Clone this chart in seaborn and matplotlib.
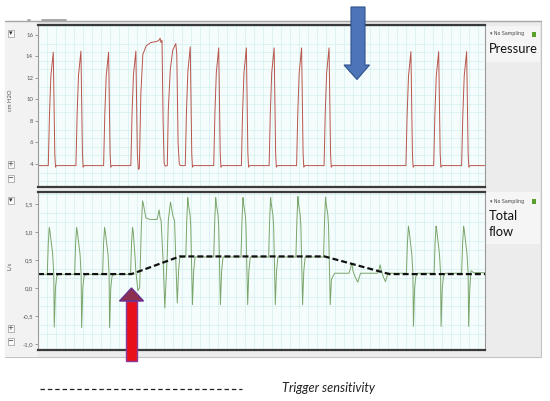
import seaborn as sns
import matplotlib.pyplot as plt
from matplotlib.patches import Rectangle, Polygon
from matplotlib.lines import Line2D
from matplotlib.ticker import MultipleLocator

# time axis: 0.1 s steps from the left edge of the trace window
# airway pressure (cm H2O)
p_t = [0,
       10.3, 11.5, 12.9, 15.3, 16.8, 17.5, 18.5,
       38.0, 39.2, 40.6, 43.0, 44.5, 45.2, 46.2,
       65.7, 66.9, 68.3, 70.7, 72.2, 72.9, 73.9,
       93.0, 94.2, 95.6, 98.0, 99.5, 100.5,
       101.5, 103.0, 105.0, 108.5, 113.0, 119.0, 121.0, 122.3, 123.2, 124.2, 125.3, 126.3, 127.3, 129.5,
       130.5, 132.5, 135.0, 138.0, 139.0, 140.3, 141.5, 142.5,
       147.5, 148.7, 150.1, 152.5, 154.0, 154.7, 155.7,
       176.0, 177.2, 178.6, 181.0, 182.5, 183.2, 184.2,
       203.7, 204.9, 206.3, 208.7, 210.2, 210.9, 211.9,
       231.5, 232.7, 234.1, 236.5, 238.0, 238.7, 239.7,
       259.0, 260.2, 261.6, 264.0, 265.5, 266.2, 267.2,
       286.5, 287.7, 289.1, 291.5, 293.0, 293.7, 294.7,
       368.5, 369.7, 371.1, 373.5, 375.0, 375.7, 376.7,
       396.3, 397.5, 398.9, 401.3, 402.8, 403.5, 404.5,
       424.3, 425.5, 426.9, 429.3, 430.8, 431.5, 432.5,
       447.7]
p_v = [3.85,
       3.85, 8.6, 12.2, 14.4, 5.0, 3.7, 3.85,
       3.85, 8.7, 12.3, 14.5, 5.0, 3.7, 3.85,
       3.85, 8.6, 12.2, 14.4, 5.0, 3.7, 3.85,
       3.85, 8.7, 12.3, 14.5, 5.0, 3.5,
       3.6, 10.5, 14.2, 15.0, 15.3, 15.4, 15.5, 15.7, 15.3, 15.5, 8.0, 4.1, 3.8, 3.85,
       9.0, 12.8, 14.6, 15.2, 14.2, 6.0, 4.0, 3.85,
       3.85, 8.9, 12.6, 14.9, 5.0, 3.7, 3.85,
       3.85, 8.8, 12.5, 14.8, 5.0, 3.7, 3.85,
       3.85, 8.8, 12.5, 14.8, 5.0, 3.7, 3.85,
       3.85, 8.8, 12.5, 14.8, 5.0, 3.7, 3.85,
       3.85, 8.8, 12.5, 14.8, 5.0, 3.7, 3.85,
       3.85, 8.8, 12.5, 14.8, 5.0, 3.7, 3.85,
       3.85, 8.6, 12.2, 14.45, 5.0, 3.7, 3.85,
       3.85, 8.6, 12.2, 14.45, 5.0, 3.7, 3.85,
       3.85, 8.6, 12.2, 14.45, 5.0, 3.7, 3.85,
       3.85]

# total flow (L/s)
f_t = [0,
       9.3, 10.3, 11.3, 12.0, 14.7, 15.8, 16.3, 17.5, 18.7, 20.5,
       36.7, 37.7, 38.7, 39.4, 42.1, 43.2, 43.7, 44.9, 46.1, 47.9,
       64.7, 65.7, 66.7, 67.4, 70.1, 71.2, 71.7, 72.9, 74.1, 75.9,
       92.7, 93.7, 94.7, 95.4, 97.0, 98.0, 100.0, 101.8,
       103.5, 104.7, 105.5, 108.0, 112.0, 119.3, 120.3, 121.3, 122.3, 123.3, 125.5, 127.0, 128.5,
       129.5, 130.5, 132.7, 133.5, 135.3, 136.8, 138.0, 139.5, 140.8, 142.0,
       148.0, 149.0, 150.0, 150.6, 152.3, 153.0, 154.7, 155.9, 157.3,
       176.0, 177.0, 178.0, 178.6, 180.3, 181.0, 182.7, 183.9, 185.3,
       203.3, 204.3, 205.3, 205.9, 207.6, 208.3, 210.0, 211.2, 212.6,
       231.0, 232.0, 233.0, 233.6, 235.3, 236.0, 237.7, 238.9, 240.3,
       258.3, 259.3, 260.3, 260.9, 262.6, 263.3, 265.0, 266.2, 267.6,
       286.0, 287.0, 288.0, 288.6, 290.3, 291.0, 292.7, 293.9, 297.0,
       311.5, 313.0, 314.3, 315.5, 317.5, 320.3, 323.0,
       340.0, 341.5, 342.7, 344.0, 345.8, 348.0, 350.5,
       369.0, 370.0, 371.0, 371.7, 374.4, 375.5, 376.0, 377.2, 378.4, 380.2,
       396.7, 397.7, 398.7, 399.4, 402.1, 403.2, 403.7, 404.9, 406.1, 407.9,
       424.3, 425.3, 426.3, 427.0, 429.7, 430.8, 431.3, 432.5, 433.7, 434.5, 436.0,
       447.7]
f_v = [0.24,
       0.24, 0.8, 1.08, 1.0, 0.6, 0.24, -0.70, 0.0, 0.2, 0.24,
       0.24, 0.8, 1.08, 1.0, 0.6, 0.24, -0.71, 0.0, 0.2, 0.24,
       0.24, 0.8, 1.08, 1.0, 0.6, 0.24, -0.71, 0.0, 0.2, 0.24,
       0.24, 0.8, 1.08, 1.0, 0.6, 0.3, -0.05, 0.0,
       1.1, 1.55, 1.5, 1.25, 1.22, 1.22, 1.30, 1.39, 1.25, 1.20, 0.4, -0.36, 0.2,
       0.6, 1.2, 1.53, 1.45, 1.27, 1.2, 0.5, -0.27, 0.3, 0.54,
       0.55, 1.2, 1.61, 1.5, 1.30, 1.1, -0.30, 0.3, 0.55,
       0.55, 1.2, 1.61, 1.5, 1.30, 1.1, -0.30, 0.3, 0.55,
       0.55, 1.2, 1.61, 1.5, 1.30, 1.1, -0.30, 0.3, 0.55,
       0.55, 1.2, 1.61, 1.5, 1.30, 1.1, -0.30, 0.3, 0.55,
       0.55, 1.2, 1.63, 1.5, 1.30, 1.1, -0.30, 0.3, 0.55,
       0.55, 1.2, 1.62, 1.5, 1.30, 1.1, -0.30, 0.15, 0.26,
       0.26, 0.35, 0.44, 0.3, 0.2, 0.10, 0.26,
       0.26, 0.33, 0.41, 0.3, 0.2, 0.11, 0.26,
       0.26, 0.8, 1.10, 1.02, 0.6, 0.26, -0.69, 0.0, 0.2, 0.26,
       0.26, 0.8, 1.10, 1.02, 0.6, 0.26, -0.69, 0.0, 0.2, 0.26,
       0.26, 0.8, 1.10, 1.02, 0.6, 0.26, -0.69, 0.0, 0.3, 0.3, 0.27,
       0.27]

# trigger sensitivity (L/s)
trig_t = [0, 93.7, 142.0, 287.0, 352.0, 447.7]
trig_v = [0.245, 0.245, 0.56, 0.56, 0.245, 0.245]

p_ticks = [4, 6, 8, 10, 12, 14, 16]
f_ticks = [-1.0, -0.5, 0.0, 0.5, 1.0, 1.5]
f_labels = ["-1,0", "-0,5", "0,0", "0,5", "1,0", "1,5"]

sns.set_theme(style="white")
plt.rcParams['font.family'] = ['Lato', 'DejaVu Sans']
plt.rcParams['lines.scale_dashes'] = False

W, H = 550, 401
fig = plt.figure(figsize=(W / 100, H / 100), dpi=100)


def box(x0, y0, x1, y1):
    return [x0 / W, 1 - y1 / H, (x1 - x0) / W, (y1 - y0) / H]


# background frame (pixel coordinates)
bg = fig.add_axes([0, 0, 1, 1], zorder=-5)
bg.set_xlim(0, W)
bg.set_ylim(H, 0)
bg.axis('off')
bg.add_patch(Rectangle((5, 21), 536, 336, facecolor="#ececec", edgecolor="#c4c4c4", lw=0.8))
bg.add_patch(Rectangle((5, 21), 33, 336, facecolor="#f2f2f2", edgecolor="none"))
bg.plot([5, 541], [21, 21], color="#a8a8a8", lw=1)
bg.plot([42, 66], [19.5, 19.5], color="#9a9a9a", lw=1.2)
bg.plot([28, 30], [19.5, 19.5], color="#9a9a9a", lw=1.2)
for y0, y1 in [(26, 62), (192, 244)]:
    bg.add_patch(Rectangle((486, y0), 54, y1 - y0, facecolor="#f5f5f5", edgecolor="none"))
for yb, yp, ym in [(33, 164, 178), (200, 328, 341)]:
    for yy, g in [(yb, "▾"), (yp, "+"), (ym, "−")]:
        bg.add_patch(Rectangle((7.5, yy - 3.5), 6, 7, facecolor="#fafafa", edgecolor="#9a9a9a", lw=0.5))
        bg.text(10.5, yy, g, ha="center", va="center", fontsize=5, color="#333",
                family="DejaVu Sans")
bg.text(10, 100, "cm H2O", rotation=90, ha="center", va="center", fontsize=4.2, color="#555")
bg.text(10, 266, "L/s", rotation=90, ha="center", va="center", fontsize=4.2, color="#555")
for y, lab in [(34, "Pressure"), (201, "Total\nflow")]:
    bg.text(490, y, "▾ No Sampling", ha="left", va="center", fontsize=3.4, color="#444",
            family="DejaVu Sans")
    bg.add_patch(Rectangle((531.5, y - 2.5), 4, 5, facecolor="#5aa02c", edgecolor="none"))
    bg.text(489, y + 9, lab, ha="left", va="top", fontsize=9.3, color="#111", linespacing=1.45)

ax1 = fig.add_axes(box(38, 25, 485, 187))
ax2 = fig.add_axes(box(38, 192, 485, 350))

sns.lineplot(x=p_t, y=p_v, ax=ax1, color="#b8554c", lw=0.7, estimator=None, sort=False)
sns.lineplot(x=f_t, y=f_v, ax=ax2, color="#7aa56a", lw=0.7, estimator=None, sort=False)
sns.lineplot(x=trig_t, y=trig_v, ax=ax2, color="#111111", lw=1.6, estimator=None, sort=False,
             dashes=False).lines[-1].set_dashes([4.3, 2.2])

ax1.set_ylim(1.86, 16.93)
ax2.set_ylim(-1.11, 1.71)
ax1.set_yticks(p_ticks)
ax1.set_yticklabels([str(v) for v in p_ticks])
ax2.set_yticks(f_ticks)
ax2.set_yticklabels(f_labels)
ax1.yaxis.set_minor_locator(MultipleLocator(0.8))
ax2.yaxis.set_minor_locator(MultipleLocator(1 / 6))

for ax in (ax1, ax2):
    ax.set_xlim(0, 447.7)
    ax.set_facecolor("#f5fcfc")
    ax.set_xticks([])
    ax.xaxis.set_minor_locator(MultipleLocator(9))
    ax.grid(False, which="major")
    ax.grid(True, which="minor", color="#d2eef0", lw=0.5)
    ax.set_axisbelow(True)
    ax.tick_params(axis="y", which="major", left=True, length=2, width=0.5, color="#777",
                   labelsize=4.3, labelcolor="#555", pad=1.5)
    ax.tick_params(axis="both", which="minor", length=0)
    for s in ("top", "bottom"):
        ax.spines[s].set_color("#3a3a3a")
        ax.spines[s].set_linewidth(1.6)
    for s in ("left", "right"):
        ax.spines[s].set_color("#9a9a9a")
        ax.spines[s].set_linewidth(0.8)
    ax.set_xlabel("")
    ax.set_ylabel("")

# overlay: arrows and the trigger legend
ov = fig.add_axes([0, 0, 1, 1], zorder=10)
ov.set_xlim(0, W)
ov.set_ylim(H, 0)
ov.axis('off')
ov.patch.set_alpha(0)
ov.add_patch(Polygon([(351, 7), (365, 7), (365, 65), (369.5, 65), (357, 79.5), (344, 65), (351, 65)],
                     closed=True, facecolor="#4d74b7", edgecolor="#2f528f", lw=0.8))
ov.add_patch(Polygon([(126, 301), (137, 301), (137, 361), (126, 361)],
                     closed=True, facecolor="#e8101a", edgecolor="#8a3a9a", lw=1.0))
ov.add_patch(Polygon([(131.5, 288), (143.5, 301), (119.5, 301)],
                     closed=True, facecolor="#8c3050", edgecolor="#6a3090", lw=1.0))
ov.add_line(Line2D([40, 242], [389, 389], color="#222", lw=0.9, dashes=[3.2, 2.1]))
ov.text(282, 388, "Trigger sensitivity", ha="left", va="center", fontsize=9.2,
        style="italic", color="#222")

fig.savefig("out.png", dpi=100)
